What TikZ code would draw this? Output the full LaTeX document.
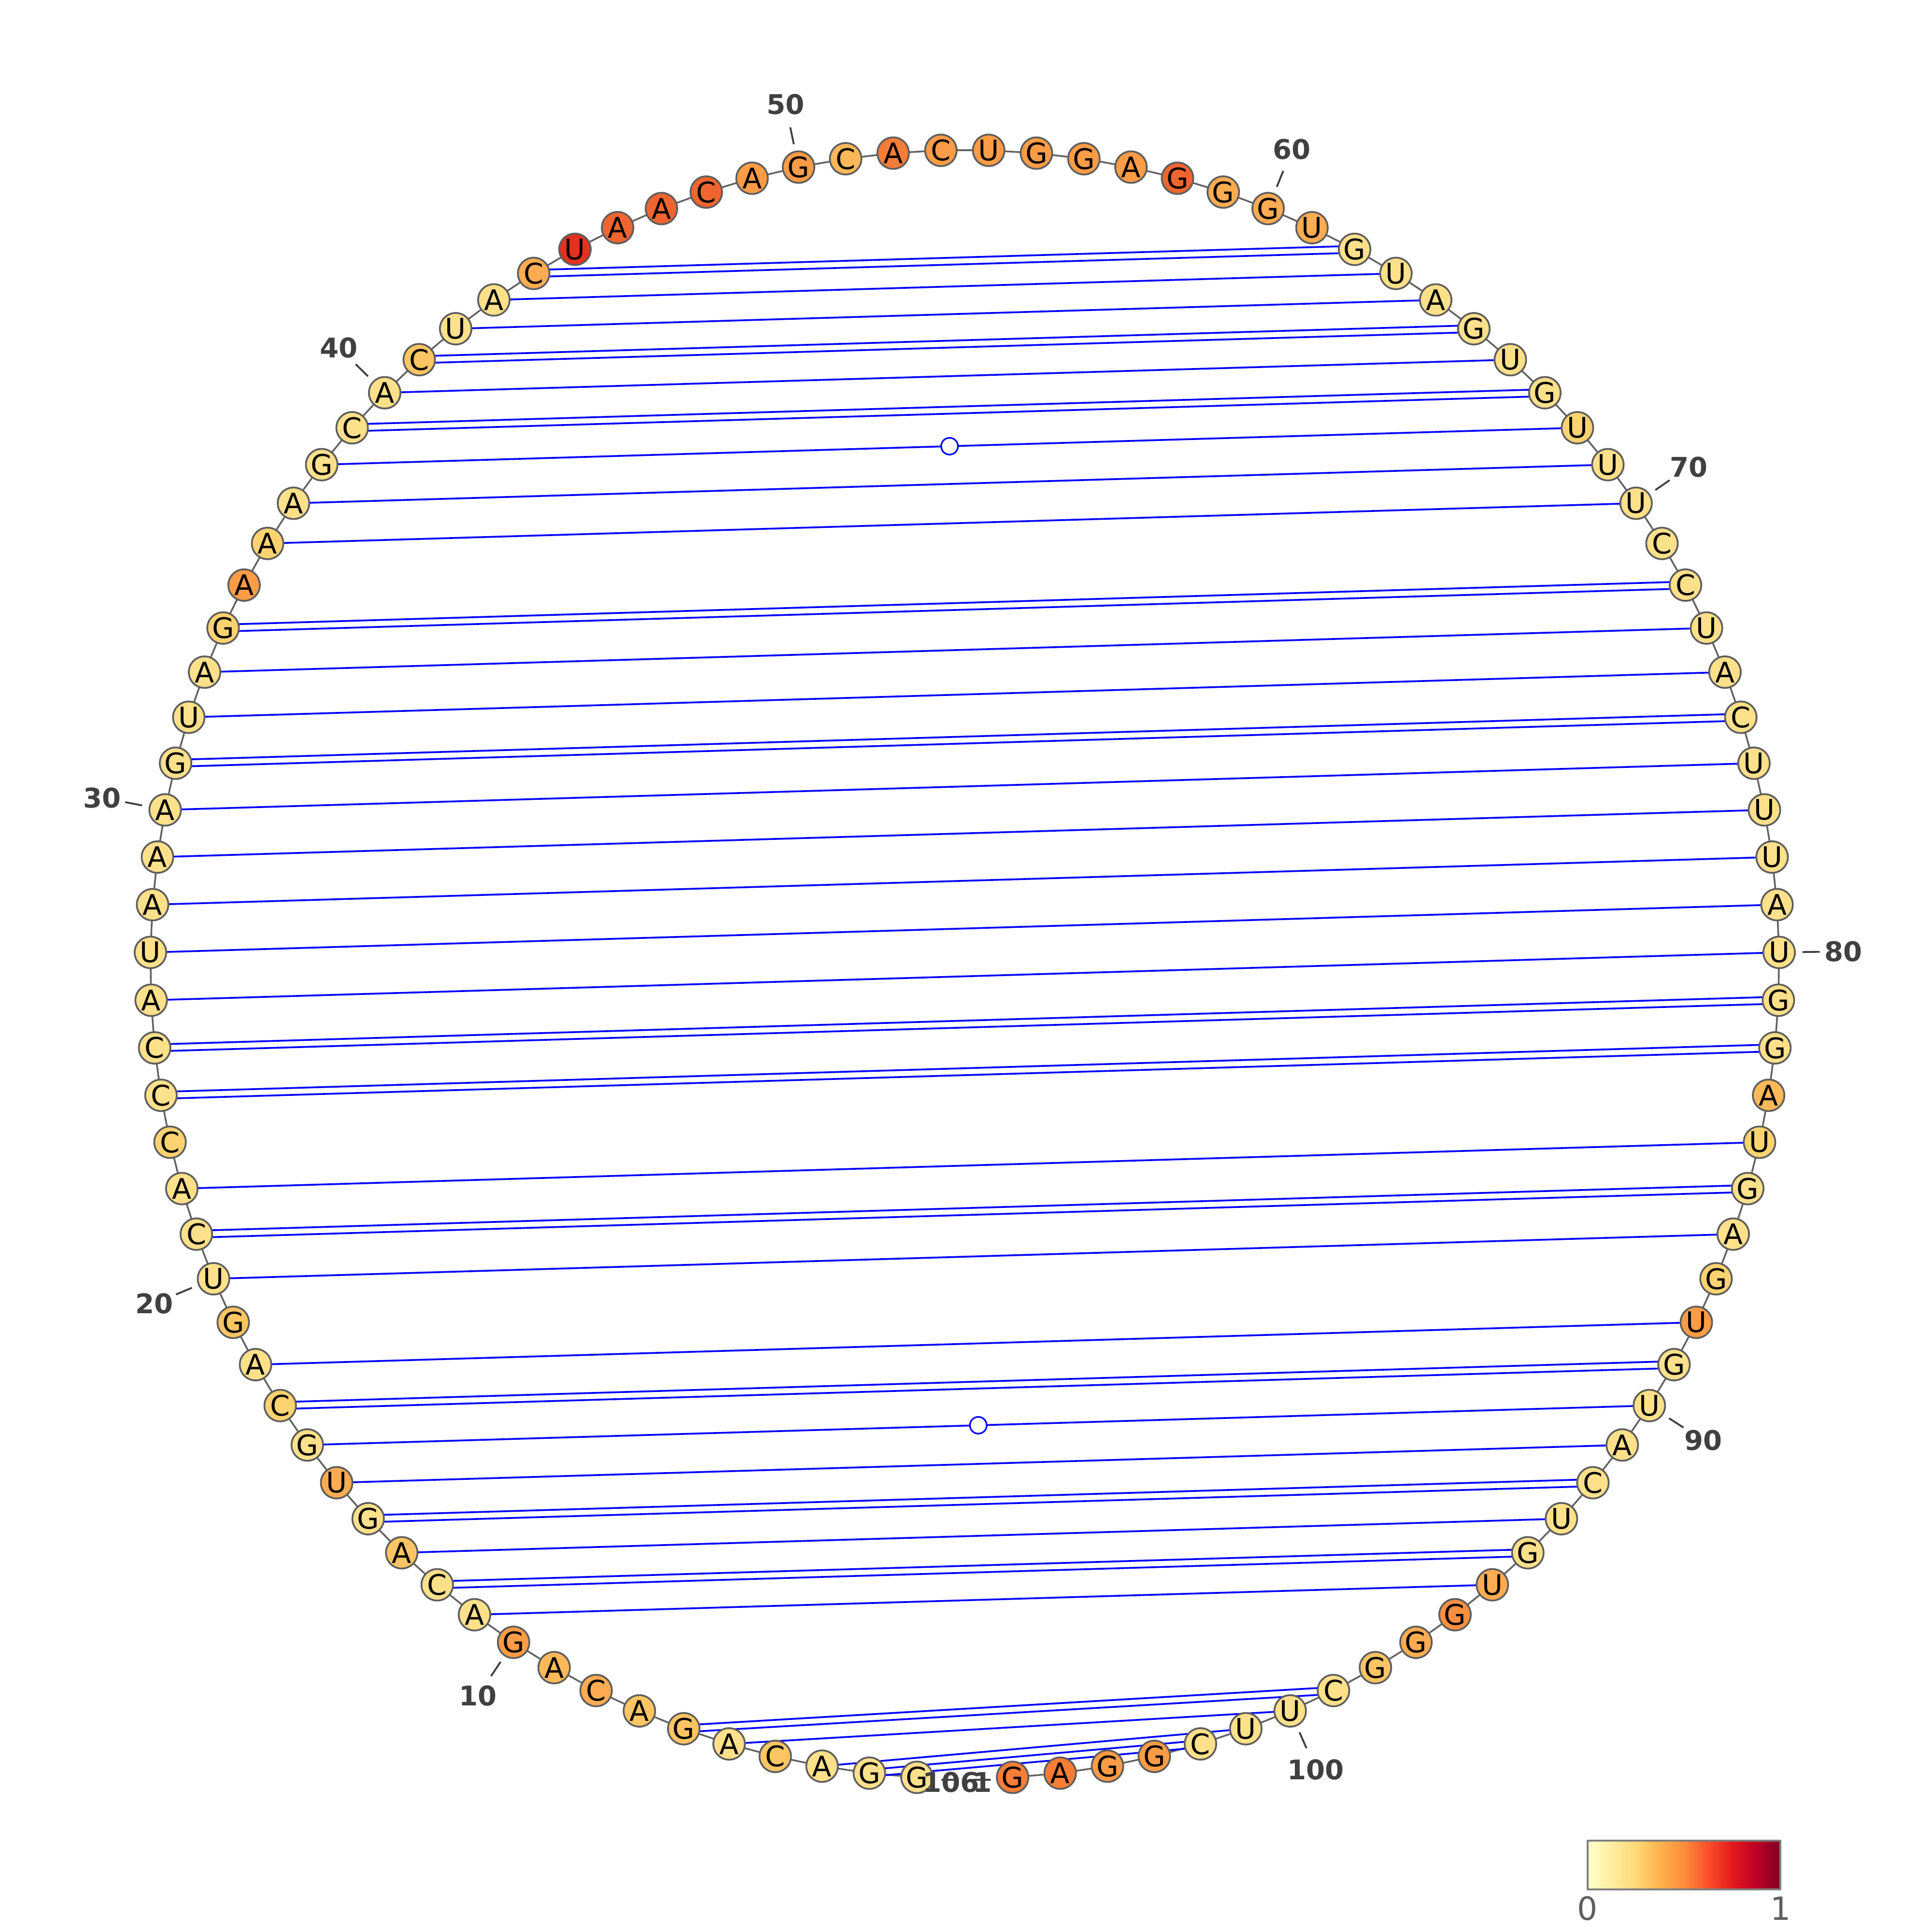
\documentclass[tikz,border=0pt]{standalone}
\usepackage{fontspec}
\setmainfont{DejaVu Sans}
\usetikzlibrary{calc}
\pgfdeclarelayer{bg}
\pgfsetlayers{bg,main}
\definecolor{ya}{HTML}{FDE08A}
\definecolor{yb}{HTML}{FDD371}
\definecolor{yc}{HTML}{FDC563}
\definecolor{oa}{HTML}{FDB959}
\definecolor{ob}{HTML}{FDAC52}
\definecolor{oc}{HTML}{FD9C46}
\definecolor{od}{HTML}{FB8F40}
\definecolor{oe}{HTML}{F67D37}
\definecolor{ra}{HTML}{F0652F}
\definecolor{rb}{HTML}{E3301F}
\definecolor{ntborder}{HTML}{5E5E5E}
\definecolor{bbgray}{HTML}{626262}
\definecolor{labgray}{HTML}{404040}
\definecolor{pairblue}{HTML}{0000FF}
\definecolor{cbgray}{HTML}{808080}
\definecolor{cblab}{HTML}{5F5F5F}
\definecolor{m0}{HTML}{FFFFCC}
\definecolor{m1}{HTML}{FFEDA0}
\definecolor{m2}{HTML}{FED976}
\definecolor{m3}{HTML}{FEB24C}
\definecolor{m4}{HTML}{FD8D3C}
\definecolor{m5}{HTML}{FC4E2A}
\definecolor{m6}{HTML}{E31A1C}
\definecolor{m7}{HTML}{BD0026}
\definecolor{m8}{HTML}{800026}
\tikzset{
  nt/.style={circle, draw=ntborder, line width=0.72pt, minimum size=12.8pt, inner sep=0pt,
    font=\fontsize{11.5}{11.5}\selectfont, text=black},
  bb/.style={draw=bbgray, line width=0.7pt},
  pr/.style={draw=pairblue, line width=0.72pt},
  gu/.style={circle, draw=pairblue, fill=white, line width=0.65pt, minimum size=6.8pt, inner sep=0pt},
  tickmark/.style={draw=labgray, line width=0.75pt},
  lab/.style={font=\fontsize{11}{11}\selectfont\bfseries, text=labgray, inner sep=0pt},
  cbl/.style={font=\fontsize{13}{13}\selectfont, text=cblab, inner sep=0pt}
}
\begin{document}
\begin{tikzpicture}[x=0.5pt,y=-0.5pt]
\useasboundingbox (0,0) rectangle (1568,1566.4);
% nucleotides
\foreach \i/\b/\c in {
1/G/ya,2/G/ya,3/A/ya,4/C/yc,5/A/ya,6/G/yc,7/A/yc,8/C/ob,9/A/oa,10/G/oc,
11/A/ya,12/C/ya,13/A/yc,14/G/ya,15/U/ob,16/G/ya,17/C/yb,18/A/ya,19/G/yc,20/U/ya,
21/C/ya,22/A/ya,23/C/yb,24/C/ya,25/C/ya,26/A/ya,27/U/ya,28/A/ya,29/A/ya,30/A/ya,
31/G/ya,32/U/ya,33/A/ya,34/G/yb,35/A/oc,36/A/yb,37/A/ya,38/G/ya,39/C/ya,40/A/ya,
41/C/yc,42/U/ya,43/A/ya,44/C/ob,45/U/rb,46/A/ra,47/A/ra,48/C/ra,49/A/oc,50/G/oc,
51/C/oa,52/A/oe,53/C/oc,54/U/oc,55/G/oc,56/G/oc,57/A/oc,58/G/ra,59/G/ob,60/G/ob,
61/U/ob,62/G/ya,63/U/ya,64/A/ya,65/G/ya,66/U/ya,67/G/ya,68/U/yb,69/U/ya,70/U/ya,
71/C/ya,72/C/ya,73/U/ya,74/A/ya,75/C/ya,76/U/ya,77/U/ya,78/U/ya,79/A/ya,80/U/ya,
81/G/ya,82/G/ya,83/A/oa,84/U/yb,85/G/ya,86/A/ya,87/G/yb,88/U/oc,89/G/ya,90/U/ya,
91/A/ya,92/C/ya,93/U/ya,94/G/ya,95/U/ob,96/G/od,97/G/ob,98/G/yc,99/C/ya,100/U/ya,
101/U/ya,102/C/ya,103/G/oc,104/G/oc,105/A/oe,106/G/oe} {
  \pgfmathsetmacro\ang{-90-\i*3.364486}
  \node[nt, fill=\c] (n\i) at ({783+661*cos(\ang)},{782.7-661*sin(\ang)}) {\b};
}
\begin{pgfonlayer}{bg}
% backbone
\foreach \i [evaluate=\i as \j using int(\i+1)] in {1,...,105} {
  \draw[bb] (n\i.center) -- (n\j.center);
}
% base pairs: 1 = single line, 2 = double line, 3 = single line with circle
\foreach \i/\j/\t in {2/102/2,3/101/1,5/100/1,6/99/2,11/95/1,12/94/2,13/93/1,14/92/2,
15/91/1,16/90/3,17/89/2,18/88/1,20/86/1,21/85/2,22/84/1,24/82/2,25/81/2,26/80/1,27/79/1,
28/78/1,29/77/1,30/76/1,31/75/2,32/74/1,33/73/1,34/72/2,36/70/1,37/69/1,38/68/3,39/67/2,
40/66/1,41/65/2,42/64/1,43/63/1,44/62/2} {
  \ifnum\t=2
    \draw[pr] ($(n\i.center)!1.4pt!90:(n\j.center)$) -- ($(n\j.center)!1.4pt!-90:(n\i.center)$);
    \draw[pr] ($(n\i.center)!1.4pt!-90:(n\j.center)$) -- ($(n\j.center)!1.4pt!90:(n\i.center)$);
  \else
    \draw[pr] (n\i.center) -- (n\j.center);
  \fi
}
\end{pgfonlayer}
% G-U markers
\node[gu] (gu16) at ($(n16.center)!0.5!(n90.center)$) {};
\node[gu] (gu38) at ($(n38.center)!0.5!(n68.center)$) {};
% position labels
\foreach \k in {10,20,...,100} {
  \pgfmathsetmacro\a{-90-\k*3.364486}
  \draw[tickmark] ({783+680*cos(\a)},{782.7-680*sin(\a)}) -- ({783+694*cos(\a)},{782.7-694*sin(\a)});
  \node[lab] (l\k) at ({783+713*cos(\a)},{782.7-713*sin(\a)}) {\k};
}
\draw[tickmark] (764,1444.6) -- (778,1444.6);
\draw[tickmark] (790,1444.6) -- (804,1444.6);
\node[lab] (l106) at (772,1446.5) {106};
\node[lab] (l1) at (797.3,1446.5) {1};
% colour bar
\shade[left color=m0, right color=m1] (1288.5,1494) rectangle (1308.06,1533.5);
\shade[left color=m1, right color=m2] (1308.06,1494) rectangle (1327.63,1533.5);
\shade[left color=m2, right color=m3] (1327.63,1494) rectangle (1347.19,1533.5);
\shade[left color=m3, right color=m4] (1347.19,1494) rectangle (1366.75,1533.5);
\shade[left color=m4, right color=m5] (1366.75,1494) rectangle (1386.31,1533.5);
\shade[left color=m5, right color=m6] (1386.31,1494) rectangle (1405.88,1533.5);
\shade[left color=m6, right color=m7] (1405.88,1494) rectangle (1425.44,1533.5);
\shade[left color=m7, right color=m8] (1425.44,1494) rectangle (1445,1533.5);
\draw[draw=cbgray, line width=0.8pt, line join=round] (1288.5,1494) rectangle (1445,1533.5);
\node[cbl] (cb0) at (1288.5,1549) {0};
\node[cbl] (cb1) at (1445,1549) {1};
\end{tikzpicture}
\end{document}
